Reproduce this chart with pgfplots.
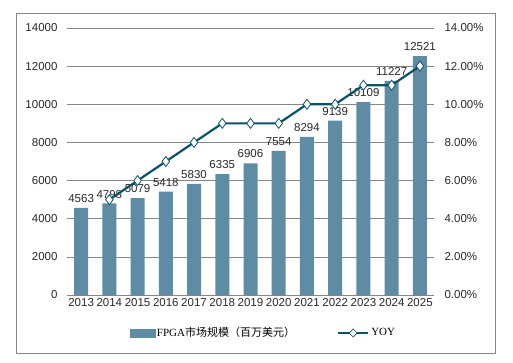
\documentclass[border=0pt]{standalone}
\usepackage{pgfplots}
\pgfplotsset{compat=1.18}
\usepackage{fontspec}
\setmainfont{Liberation Sans}
\newfontfamily\cjk{Noto Sans CJK SC}
\newfontfamily\ser{Liberation Serif}
\definecolor{barcol}{RGB}{94,140,164}
\definecolor{linecol}{RGB}{12,82,102}
\definecolor{gridcol}{RGB}{134,134,134}
\definecolor{txtcol}{RGB}{40,40,40}
\begin{document}
\begin{tikzpicture}
\begin{axis}[name=ax, scale only axis, width=367pt, height=267pt,
  xmin=-0.5, xmax=12.5, ymin=0, ymax=14000,
  xtick={0,...,12},
  xticklabels={2013,2014,2015,2016,2017,2018,2019,2020,2021,2022,2023,2024,2025},
  ytick={0,2000,...,14000},
  ymajorgrids, grid style={gridcol, line width=0.7pt},
  axis x line*=bottom, axis y line*=left,
  y axis line style={draw=none}, x axis line style={gridcol, line width=0.7pt, -},
  major tick length=0pt,
  scaled y ticks=false,
  /pgf/number format/assume math mode=true,
  /pgf/number format/1000 sep={},
  tick label style={font=\fontsize{11.5}{12}\selectfont, text=txtcol},
  xticklabel style={inner sep=1pt, yshift=-2pt},
  yticklabel style={xshift=-6pt},
  ybar, bar width=14pt,
  nodes near coords,
  nodes near coords style={font=\fontsize{11.5}{12}\selectfont, text=txtcol, inner sep=2pt, yshift=3pt},
]
\addplot[fill=barcol, draw=none] coordinates {
(0,4563) (1,4798) (2,5079) (3,5418) (4,5830) (5,6335) (6,6906)
(7,7554) (8,8294) (9,9139) (10,10109) (11,11227) (12,12521)};
\end{axis}
\begin{axis}[scale only axis, width=367pt, height=267pt,
  xmin=-0.5, xmax=12.5, ymin=0, ymax=14,
  axis x line=none, axis y line*=right,
  y axis line style={draw=none}, major tick length=0pt,
  ytick={0,2,...,14},
  /pgf/number format/assume math mode=true,
  yticklabel={\pgfmathprintnumber[fixed,fixed zerofill,precision=2]{\tick}\%},
  tick label style={font=\fontsize{11.5}{12}\selectfont, text=txtcol},
  yticklabel style={xshift=7pt},
  legend style={at={(0.535,-0.142)}, anchor=center, draw=none, fill=none,
    legend columns=2, font=\fontsize{11}{12}\selectfont,
    /tikz/every even column/.append style={column sep=40pt}},
]
\addlegendimage{legend image code/.code={\fill[barcol] (0pt,-4pt) rectangle (25pt,4pt);}}
\addlegendentry{{\ser FPGA}{\cjk 市场规模（百万美元）}}
\addplot[linecol, line width=2.2pt, mark=diamond*, mark size=5pt,
  mark options={fill=white, draw=linecol, line width=0.8pt},
  legend image code/.code={\draw[linecol, line width=2.2pt] (0pt,0pt) -- (30pt,0pt);
    \draw[fill=white, draw=linecol, line width=0.6pt] (15pt,0pt) +(-4pt,0) -- +(0,4pt) -- +(4pt,0) -- +(0,-4pt) -- cycle;}] coordinates {
(1,5) (2,6) (3,7) (4,8) (5,9) (6,9) (7,9) (8,10) (9,10) (10,11) (11,11) (12,12)};
\addlegendentry{{\ser YOY}}
\end{axis}
\draw[gridcol, line width=0.8pt] ([xshift=-51pt,yshift=-58pt]ax.south west) rectangle ([xshift=61pt,yshift=15pt]ax.north east);
\path ([xshift=-67pt,yshift=-67pt]ax.south west) rectangle ([xshift=79pt,yshift=28pt]ax.north east);
\end{tikzpicture}
\end{document}
